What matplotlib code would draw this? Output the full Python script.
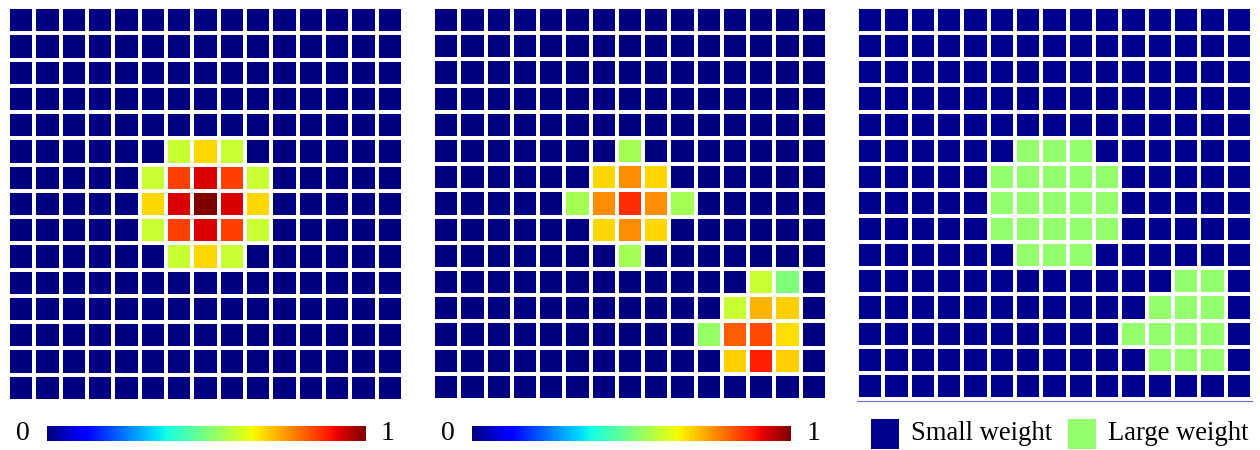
import numpy as np
import matplotlib.pyplot as plt
from matplotlib.colors import ListedColormap, Normalize
from matplotlib.cm import ScalarMappable
from matplotlib.patches import Rectangle

plt.rcParams['font.family'] = ['Liberation Serif', 'DejaVu Serif']

# weights of the single-target map (15 x 15, row 0 at the top)
weights_single = [
    [0, 0, 0, 0, 0, 0, 0,    0,    0,    0, 0, 0, 0, 0, 0],
    [0, 0, 0, 0, 0, 0, 0,    0,    0,    0, 0, 0, 0, 0, 0],
    [0, 0, 0, 0, 0, 0, 0,    0,    0,    0, 0, 0, 0, 0, 0],
    [0, 0, 0, 0, 0, 0, 0,    0,    0,    0, 0, 0, 0, 0, 0],
    [0, 0, 0, 0, 0, 0, 0,    0,    0,    0, 0, 0, 0, 0, 0],
    [0, 0, 0, 0, 0, 0, 0.59, 0.68, 0.59, 0, 0, 0, 0, 0, 0],
    [0, 0, 0, 0, 0, 0.59, 0.84, 0.92, 0.84, 0.59, 0, 0, 0, 0, 0],
    [0, 0, 0, 0, 0, 0.68, 0.92, 1.00, 0.92, 0.68, 0, 0, 0, 0, 0],
    [0, 0, 0, 0, 0, 0.59, 0.84, 0.92, 0.84, 0.59, 0, 0, 0, 0, 0],
    [0, 0, 0, 0, 0, 0, 0.59, 0.68, 0.59, 0, 0, 0, 0, 0, 0],
    [0, 0, 0, 0, 0, 0, 0,    0,    0,    0, 0, 0, 0, 0, 0],
    [0, 0, 0, 0, 0, 0, 0,    0,    0,    0, 0, 0, 0, 0, 0],
    [0, 0, 0, 0, 0, 0, 0,    0,    0,    0, 0, 0, 0, 0, 0],
    [0, 0, 0, 0, 0, 0, 0,    0,    0,    0, 0, 0, 0, 0, 0],
    [0, 0, 0, 0, 0, 0, 0,    0,    0,    0, 0, 0, 0, 0, 0],
]

# weights of the two-target map
weights_double = [
    [0, 0, 0, 0, 0, 0,    0,    0,    0,    0,    0,    0,    0,     0,    0],
    [0, 0, 0, 0, 0, 0,    0,    0,    0,    0,    0,    0,    0,     0,    0],
    [0, 0, 0, 0, 0, 0,    0,    0,    0,    0,    0,    0,    0,     0,    0],
    [0, 0, 0, 0, 0, 0,    0,    0,    0,    0,    0,    0,    0,     0,    0],
    [0, 0, 0, 0, 0, 0,    0,    0,    0,    0,    0,    0,    0,     0,    0],
    [0, 0, 0, 0, 0, 0,    0,    0.55, 0,    0,    0,    0,    0,     0,    0],
    [0, 0, 0, 0, 0, 0,    0.68, 0.76, 0.68, 0,    0,    0,    0,     0,    0],
    [0, 0, 0, 0, 0, 0.55, 0.76, 0.86, 0.76, 0.55, 0,    0,    0,     0,    0],
    [0, 0, 0, 0, 0, 0,    0.68, 0.76, 0.68, 0,    0,    0,    0,     0,    0],
    [0, 0, 0, 0, 0, 0,    0,    0.55, 0,    0,    0,    0,    0,     0,    0],
    [0, 0, 0, 0, 0, 0,    0,    0,    0,    0,    0,    0,    0.59,  0.50, 0],
    [0, 0, 0, 0, 0, 0,    0,    0,    0,    0,    0,    0.59, 0.72,  0.69, 0],
    [0, 0, 0, 0, 0, 0,    0,    0,    0,    0,    0.53, 0.81, 0.83,  0.675, 0],
    [0, 0, 0, 0, 0, 0,    0,    0,    0,    0,    0,    0.69, 0.875, 0.69, 0],
    [0, 0, 0, 0, 0, 0,    0,    0,    0,    0,    0,    0,    0,     0,    0],
]

# binary mask: 0 = small weight, 1 = large weight
weight_mask = [
    [0, 0, 0, 0, 0, 0, 0, 0, 0, 0, 0, 0, 0, 0, 0],
    [0, 0, 0, 0, 0, 0, 0, 0, 0, 0, 0, 0, 0, 0, 0],
    [0, 0, 0, 0, 0, 0, 0, 0, 0, 0, 0, 0, 0, 0, 0],
    [0, 0, 0, 0, 0, 0, 0, 0, 0, 0, 0, 0, 0, 0, 0],
    [0, 0, 0, 0, 0, 0, 0, 0, 0, 0, 0, 0, 0, 0, 0],
    [0, 0, 0, 0, 0, 0, 1, 1, 1, 0, 0, 0, 0, 0, 0],
    [0, 0, 0, 0, 0, 1, 1, 1, 1, 1, 0, 0, 0, 0, 0],
    [0, 0, 0, 0, 0, 1, 1, 1, 1, 1, 0, 0, 0, 0, 0],
    [0, 0, 0, 0, 0, 1, 1, 1, 1, 1, 0, 0, 0, 0, 0],
    [0, 0, 0, 0, 0, 0, 1, 1, 1, 0, 0, 0, 0, 0, 0],
    [0, 0, 0, 0, 0, 0, 0, 0, 0, 0, 0, 0, 1, 1, 0],
    [0, 0, 0, 0, 0, 0, 0, 0, 0, 0, 0, 1, 1, 1, 0],
    [0, 0, 0, 0, 0, 0, 0, 0, 0, 0, 1, 1, 1, 1, 0],
    [0, 0, 0, 0, 0, 0, 0, 0, 0, 0, 0, 1, 1, 1, 0],
    [0, 0, 0, 0, 0, 0, 0, 0, 0, 0, 0, 0, 0, 0, 0],
]

legend_labels = ['Small weight', 'Large weight']
small_color = '#00008f'
large_color = '#94ff6c'

W, H = 1260, 450
fig = plt.figure(figsize=(W / 100, H / 100), dpi=100)


def px_axes(x0, y0, x1, y1):
    # axes placed by pixel box (top-left origin)
    return fig.add_axes([x0 / W, 1 - y1 / H, (x1 - x0) / W, (y1 - y0) / H])


def draw_grid(ax, data, cmap):
    ax.pcolormesh(np.array(data, dtype=float), cmap=cmap, vmin=0, vmax=1,
                  edgecolors='white', linewidth=1.6)
    ax.set_xlim(0, 15)
    ax.set_ylim(15, 0)
    ax.axis('off')


jet = plt.get_cmap('jet')

ax1 = px_axes(8, 7, 403, 401)
draw_grid(ax1, weights_single, jet)

ax2 = px_axes(433, 7, 827, 400)
draw_grid(ax2, weights_double, jet)

ax3 = px_axes(857, 7, 1252, 399)
draw_grid(ax3, weight_mask, ListedColormap([small_color, large_color]))
# thin base line under the mask panel
fig.add_artist(plt.Line2D([857 / W, 1252 / W], [1 - 401 / H, 1 - 401 / H],
                          color='#6a6ad8', linewidth=0.8))

# colorbars with end labels
for x0, x1, lx0, lx1 in [(47, 366, 23, 388), (472, 791, 448, 814)]:
    cax = px_axes(x0, 426, x1, 441)
    cb = fig.colorbar(ScalarMappable(norm=Normalize(0, 1), cmap=jet),
                      cax=cax, orientation='horizontal')
    cb.set_ticks([])
    cb.outline.set_visible(False)
    fig.text(lx0 / W, 1 - 433 / H, '0', fontsize=20, ha='center', va='center')
    fig.text(lx1 / W, 1 - 433 / H, '1', fontsize=20, ha='center', va='center')

# legend for the mask panel
lax = px_axes(857, 410, 1260, 450)
lax.set_xlim(857, 1260)
lax.set_ylim(450, 410)
lax.axis('off')
for sx, col, lab in zip([871, 1068], [small_color, large_color], legend_labels):
    lax.add_patch(Rectangle((sx, 419), 28, 30, facecolor=col, edgecolor='none'))
    lax.text(sx + 40, 434, lab, fontsize=19.2, ha='left', va='center')

fig.savefig('out.png', dpi=100)
